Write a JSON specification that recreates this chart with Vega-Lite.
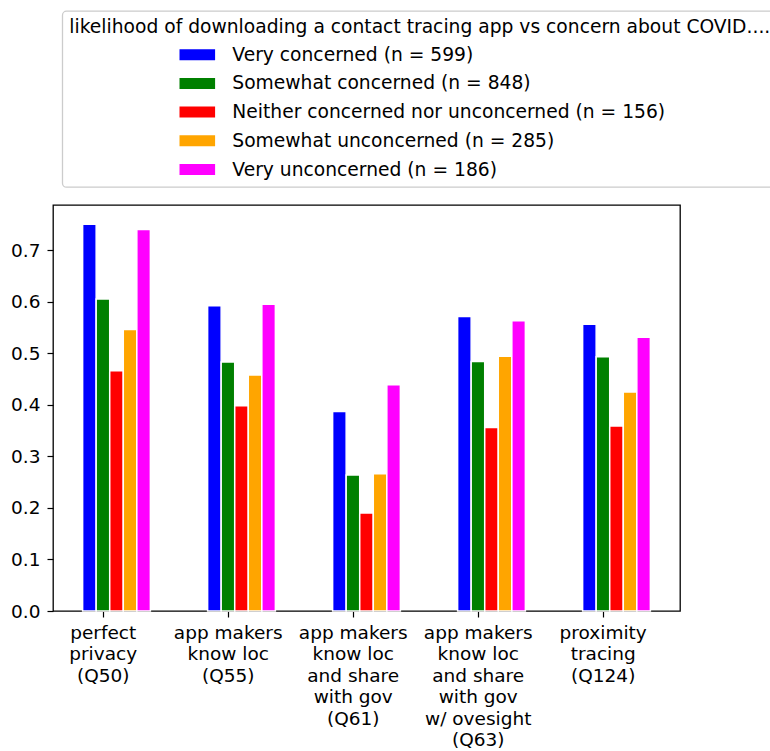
{
  "$schema": "https://vega.github.io/schema/vega-lite/v6.json",
  "width": 627,
  "height": 406,
  "autosize": {"type": "none"},
  "padding": {"left": 53, "top": 205, "right": 90, "bottom": 140},
  "background": "white",
  "config": {
    "font": "DejaVu Sans",
    "view": {"stroke": "black", "strokeWidth": 1.3},
    "legend": {"strokeWidth": 1.3},
    "axis": {
      "domain": false,
      "grid": false,
      "ticks": true,
      "tickColor": "black",
      "tickSize": 6,
      "tickWidth": 1.2,
      "labelColor": "black",
      "labelFont": "DejaVu Sans",
      "labelFontSize": 18.5,
      "title": null
    }
  },
  "data": {
    "values": [
      {"q": "perfect\nprivacy\n (Q50)", "c": "Very concerned (n = 599)", "v": 0.750},
      {"q": "perfect\nprivacy\n (Q50)", "c": "Somewhat concerned (n = 848)", "v": 0.605},
      {"q": "perfect\nprivacy\n (Q50)", "c": "Neither concerned nor unconcerned (n = 156)", "v": 0.466},
      {"q": "perfect\nprivacy\n (Q50)", "c": "Somewhat unconcerned (n = 285)", "v": 0.546},
      {"q": "perfect\nprivacy\n (Q50)", "c": "Very unconcerned (n = 186)", "v": 0.740},
      {"q": "app makers\nknow loc\n (Q55)", "c": "Very concerned (n = 599)", "v": 0.592},
      {"q": "app makers\nknow loc\n (Q55)", "c": "Somewhat concerned (n = 848)", "v": 0.483},
      {"q": "app makers\nknow loc\n (Q55)", "c": "Neither concerned nor unconcerned (n = 156)", "v": 0.398},
      {"q": "app makers\nknow loc\n (Q55)", "c": "Somewhat unconcerned (n = 285)", "v": 0.458},
      {"q": "app makers\nknow loc\n (Q55)", "c": "Very unconcerned (n = 186)", "v": 0.595},
      {"q": "app makers\nknow loc\nand share\nwith gov\n(Q61)", "c": "Very concerned (n = 599)", "v": 0.387},
      {"q": "app makers\nknow loc\nand share\nwith gov\n(Q61)", "c": "Somewhat concerned (n = 848)", "v": 0.264},
      {"q": "app makers\nknow loc\nand share\nwith gov\n(Q61)", "c": "Neither concerned nor unconcerned (n = 156)", "v": 0.190},
      {"q": "app makers\nknow loc\nand share\nwith gov\n(Q61)", "c": "Somewhat unconcerned (n = 285)", "v": 0.266},
      {"q": "app makers\nknow loc\nand share\nwith gov\n(Q61)", "c": "Very unconcerned (n = 186)", "v": 0.439},
      {"q": "app makers\nknow loc\nand share\n with gov\nw/ ovesight\n(Q63)", "c": "Very concerned (n = 599)", "v": 0.571},
      {"q": "app makers\nknow loc\nand share\n with gov\nw/ ovesight\n(Q63)", "c": "Somewhat concerned (n = 848)", "v": 0.484},
      {"q": "app makers\nknow loc\nand share\n with gov\nw/ ovesight\n(Q63)", "c": "Neither concerned nor unconcerned (n = 156)", "v": 0.356},
      {"q": "app makers\nknow loc\nand share\n with gov\nw/ ovesight\n(Q63)", "c": "Somewhat unconcerned (n = 285)", "v": 0.494},
      {"q": "app makers\nknow loc\nand share\n with gov\nw/ ovesight\n(Q63)", "c": "Very unconcerned (n = 186)", "v": 0.563},
      {"q": "proximity\ntracing\n (Q124)", "c": "Very concerned (n = 599)", "v": 0.556},
      {"q": "proximity\ntracing\n (Q124)", "c": "Somewhat concerned (n = 848)", "v": 0.493},
      {"q": "proximity\ntracing\n (Q124)", "c": "Neither concerned nor unconcerned (n = 156)", "v": 0.359},
      {"q": "proximity\ntracing\n (Q124)", "c": "Somewhat unconcerned (n = 285)", "v": 0.425},
      {"q": "proximity\ntracing\n (Q124)", "c": "Very unconcerned (n = 186)", "v": 0.531}
    ]
  },
  "mark": {"type": "bar", "stroke": "white", "strokeWidth": 1.5},
  "encoding": {
    "x": {
      "field": "q",
      "type": "nominal",
      "sort": null,
      "scale": {"paddingInner": 0.458, "paddingOuter": 0.237, "align": 0.5},
      "axis": {
        "labelAngle": 0,
        "labelAlign": "center",
        "labelBaseline": "top",
        "labelPadding": 6,
        "labelLineHeight": 21.5,
        "labelExpr": "split(datum.value, '\\n')",
        "tickOffset": -13.8
      }
    },
    "xOffset": {
      "field": "c",
      "type": "nominal",
      "sort": [
        "Very concerned (n = 599)",
        "Somewhat concerned (n = 848)",
        "Neither concerned nor unconcerned (n = 156)",
        "Somewhat unconcerned (n = 285)",
        "Very unconcerned (n = 186)"
      ],
      "scale": {"paddingInner": 0, "paddingOuter": 0}
    },
    "y": {
      "field": "v",
      "type": "quantitative",
      "scale": {"domain": [0, 0.7875], "nice": false, "zero": true},
      "axis": {"values": [0, 0.1, 0.2, 0.3, 0.4, 0.5, 0.6, 0.7], "format": ".1f", "labelPadding": 7}
    },
    "color": {
      "field": "c",
      "type": "nominal",
      "sort": [
        "Very concerned (n = 599)",
        "Somewhat concerned (n = 848)",
        "Neither concerned nor unconcerned (n = 156)",
        "Somewhat unconcerned (n = 285)",
        "Very unconcerned (n = 186)"
      ],
      "scale": {
        "domain": [
          "Very concerned (n = 599)",
          "Somewhat concerned (n = 848)",
          "Neither concerned nor unconcerned (n = 156)",
          "Somewhat unconcerned (n = 285)",
          "Very unconcerned (n = 186)"
        ],
        "range": ["#0000ff", "#008000", "#ff0000", "#ffa500", "#ff00ff"]
      },
      "legend": {
        "title": "likelihood of downloading a contact tracing app vs concern about COVID....",
        "orient": "none",
        "legendX": 9.3,
        "legendY": -194,
        "direction": "vertical",
        "titleFont": "DejaVu Sans",
        "titleFontSize": 18.7,
        "titleFontWeight": "normal",
        "titleColor": "black",
        "titleLimit": 3000,
        "titlePadding": 11,
        "labelFont": "DejaVu Sans",
        "labelFontSize": 18.7,
        "labelColor": "black",
        "labelLimit": 3000,
        "labelOffset": 17,
        "symbolType": "M-1,-0.31H1V0.31H-1Z",
        "symbolSize": 1267,
        "symbolStrokeWidth": 0,
        "symbolOffset": 110,
        "clipHeight": 14,
        "rowPadding": 9.7,
        "strokeColor": "#cccccc",
        "fillColor": "white",
        "cornerRadius": 4,
        "padding": 7
      }
    }
  }
}
